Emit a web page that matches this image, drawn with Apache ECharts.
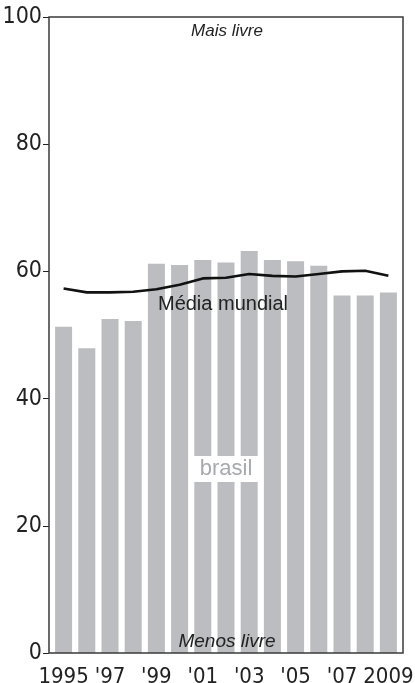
<!DOCTYPE html>
<html>
<head>
<meta charset="utf-8">
<script src="https://cdn.jsdelivr.net/npm/echarts@6/dist/echarts.min.js"></script>
<style>
html,body{margin:0;padding:0;background:#fff;}
#chart{width:415px;height:683px;}
</style>
</head>
<body>
<div id="chart"></div>
<script>
var years = ["1995","1996","1997","1998","1999","2000","2001","2002","2003","2004","2005","2006","2007","2008","2009"];
var brasil = [51.3, 47.9, 52.5, 52.2, 61.2, 61.0, 61.8, 61.4, 63.2, 61.8, 61.6, 60.9, 56.2, 56.2, 56.7];
var mediaMundial = [57.3, 56.7, 56.7, 56.8, 57.2, 57.9, 58.9, 59.0, 59.6, 59.3, 59.2, 59.6, 60.0, 60.1, 59.3];
var yTicks = [0, 20, 40, 60, 80, 100];

var NARROW = "'Liberation Sans Narrow', 'DejaVu Sans Condensed', sans-serif";
var SANS = "'Liberation Sans', Arial, sans-serif";
var chart = echarts.init(document.getElementById('chart'), null, {renderer: 'canvas'});

function xLabel(v, i) {
  if (i === 0 || i === years.length - 1) return v;
  return "'" + v.slice(2);
}

chart.setOption({
  animation: false,
  backgroundColor: '#fff',
  grid: [
    {left: 49, right: 12, top: 17, bottom: 30, show: true, borderColor: '#3a3a3a', borderWidth: 1.5, backgroundColor: 'transparent', z: 5, containLabel: false, outerBoundsMode: 'none'},
    {left: 52, right: 15, top: 17, bottom: 30, containLabel: false, outerBoundsMode: 'none'}
  ],
  xAxis: [
    {gridIndex: 0, type: 'value', min: 0, max: 1, show: false},
    {gridIndex: 1, type: 'category', data: years, boundaryGap: true,
     axisLine: {show: false}, axisTick: {show: false},
     axisLabel: {interval: 1, formatter: xLabel, margin: 13, fontFamily: NARROW, fontSize: 22, color: '#222'}}
  ],
  yAxis: [
    {gridIndex: 0, type: 'value', min: yTicks[0], max: yTicks[yTicks.length - 1], interval: 20,
     axisLine: {show: false}, splitLine: {show: false},
     axisTick: {show: true, length: 6, lineStyle: {color: '#222', width: 1}},
     axisLabel: {margin: 7, fontFamily: NARROW, fontSize: 23, color: '#222'}},
    {gridIndex: 1, type: 'value', min: 0, max: 100, show: false}
  ],
  series: [
    {type: 'bar', xAxisIndex: 1, yAxisIndex: 1, data: brasil, barWidth: 17,
     itemStyle: {color: '#bcbdc1'}, z: 2},
    {type: 'line', xAxisIndex: 1, yAxisIndex: 1, data: mediaMundial, symbol: 'none',
     lineStyle: {color: '#111', width: 2.6}, z: 4}
  ],
  graphic: [
    {type: 'text', style: {text: 'Mais livre', x: 227, y: 31, fontFamily: SANS, fontStyle: 'italic', fontSize: 17, fill: '#222', align: 'center', verticalAlign: 'middle'}, z: 10},
    {type: 'text', style: {text: 'Menos livre', x: 227, y: 642, fontFamily: SANS, fontStyle: 'italic', fontSize: 19, fill: '#222', align: 'center', verticalAlign: 'middle'}, z: 10},
    {type: 'text', style: {text: 'Média mundial', x: 223, y: 304, fontFamily: SANS, fontSize: 20, fill: '#222', align: 'center', verticalAlign: 'middle'}, z: 10},
    {type: 'text', style: {text: 'brasil', x: 226, y: 469, fontFamily: SANS, fontSize: 22, fill: '#a8a9ad', align: 'center', verticalAlign: 'middle', backgroundColor: '#fff', padding: [2, 7, 2, 7]}, z: 10}
  ]
});
</script>
</body>
</html>
